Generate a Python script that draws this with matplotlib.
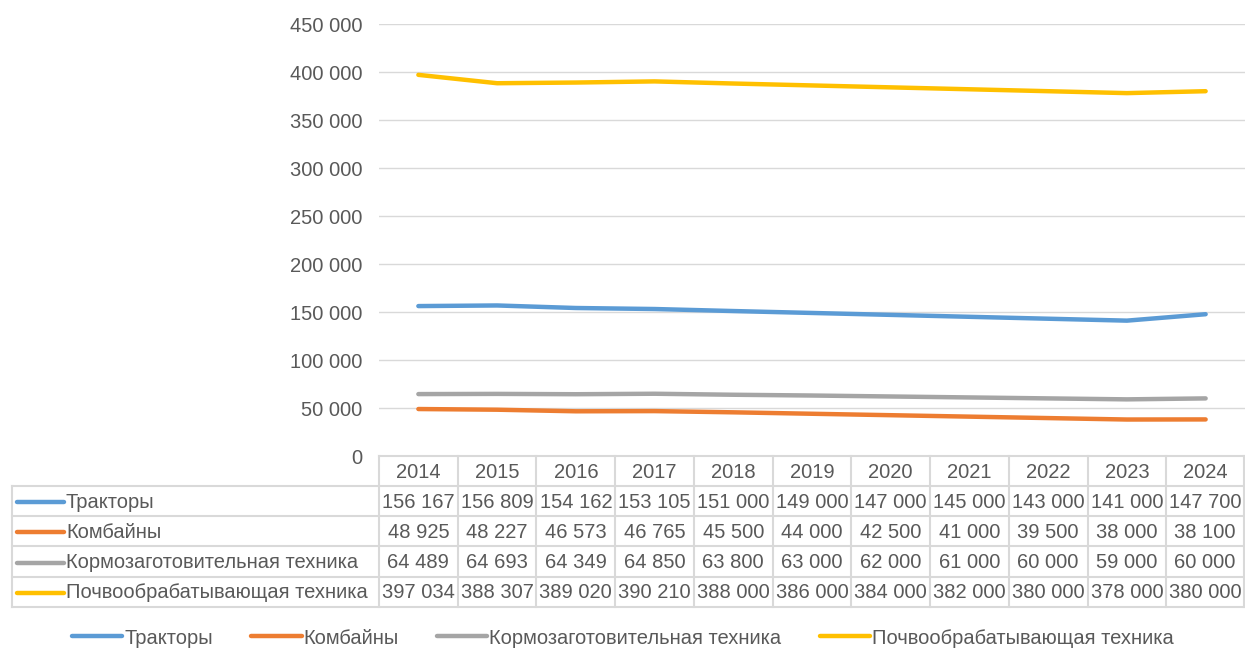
import matplotlib
matplotlib.use("Agg")
import matplotlib.pyplot as plt
from matplotlib.lines import Line2D

plt.rcParams['font.family'] = ['Liberation Sans', 'DejaVu Sans']

years = ["2014", "2015", "2016", "2017", "2018", "2019", "2020", "2021", "2022", "2023", "2024"]
series_names = ["Тракторы", "Комбайны", "Кормозаготовительная техника", "Почвообрабатывающая техника"]
tractors = [156167, 156809, 154162, 153105, 151000, 149000, 147000, 145000, 143000, 141000, 147700]
combines = [48925, 48227, 46573, 46765, 45500, 44000, 42500, 41000, 39500, 38000, 38100]
forage = [64489, 64693, 64349, 64850, 63800, 63000, 62000, 61000, 60000, 59000, 60000]
tillage = [397034, 388307, 389020, 390210, 388000, 386000, 384000, 382000, 380000, 378000, 380000]
y_ticks = [0, 50000, 100000, 150000, 200000, 250000, 300000, 350000, 400000, 450000]

colors = ["#5B9BD5", "#ED7D31", "#A5A5A5", "#FFC000"]
text_color = "#595959"
grid_color = "#D9D9D9"
FS = 14.5

W, H = 1245, 648
fig = plt.figure(figsize=(W / 100, H / 100), dpi=100)

ax_l, ax_r, ax_t, ax_b = 379, 1245, 24, 456
ax = fig.add_axes([ax_l / W, 1 - ax_b / H, (ax_r - ax_l) / W, (ax_b - ax_t) / H])

all_series = [tractors, combines, forage, tillage]
x = list(range(len(years)))
for vals, c, name in zip(all_series, colors, series_names):
    ax.plot(x, vals, color=c, lw=3.2, solid_capstyle='round', label=name)

ax.set_xlim(-0.5, len(years) - 0.5)
ax.set_ylim(0, 450000)
ax.set_yticks(y_ticks)
ax.set_yticklabels([f"{v:,}".replace(",", " ") for v in y_ticks])
ax.set_xticks([])
ax.tick_params(axis='y', length=0, pad=12, labelsize=FS, labelcolor=text_color)
ax.grid(axis='y', color=grid_color, lw=1)
ax.set_axisbelow(True)
for s in ax.spines.values():
    s.set_visible(False)

# Data table in pixel coordinates
tab = fig.add_axes([0, 0, 1, 1])
tab.set_xlim(0, W)
tab.set_ylim(H, 0)
tab.axis('off')

ncol = len(years)
col_w = (ax_r - ax_l) / ncol
col_edges = [ax_l + i * col_w for i in range(ncol + 1)]
col_edges[-1] = ax_r - 1
row_edges = [456, 486, 516, 546, 577, 607]
lab_left = 12
lc = "#D9D9D9"

# horizontal lines
tab.plot([ax_l, col_edges[-1]], [row_edges[0]] * 2, color=lc, lw=1.5)
for y in row_edges[1:]:
    tab.plot([lab_left, col_edges[-1]], [y, y], color=lc, lw=1.5)
# vertical lines
for xe in col_edges:
    tab.plot([xe, xe], [row_edges[0], row_edges[-1]], color=lc, lw=1.5)
tab.plot([lab_left, lab_left], [row_edges[1], row_edges[-1]], color=lc, lw=1.5)

# header
for i, yr in enumerate(years):
    cx = (col_edges[i] + col_edges[i + 1]) / 2
    tab.text(cx, (row_edges[0] + row_edges[1]) / 2 + 1, yr, ha='center', va='center',
             fontsize=FS, color=text_color)

# rows
for r, (vals, c, name) in enumerate(zip(all_series, colors, series_names)):
    cy = (row_edges[r + 1] + row_edges[r + 2]) / 2 + 1
    tab.plot([17, 64], [cy, cy], color=c, lw=3.2, solid_capstyle='round')
    tab.text(66, cy, name, ha='left', va='center', fontsize=FS, color=text_color)
    for i, v in enumerate(vals):
        cx = (col_edges[i] + col_edges[i + 1]) / 2
        tab.text(cx, cy, f"{v:,}".replace(",", " "), ha='center', va='center',
                 fontsize=FS, color=text_color)

# bottom legend
handles = [Line2D([0], [0], color=c, lw=3.2, solid_capstyle='round') for c in colors]
fig.legend(handles, series_names, loc='center', bbox_to_anchor=(623 / W, 1 - 638 / H),
           ncol=4, frameon=False, fontsize=FS, labelcolor=text_color,
           handlelength=2.5, handletextpad=0.1, columnspacing=1.9)

fig.savefig("out.png", dpi=100)
